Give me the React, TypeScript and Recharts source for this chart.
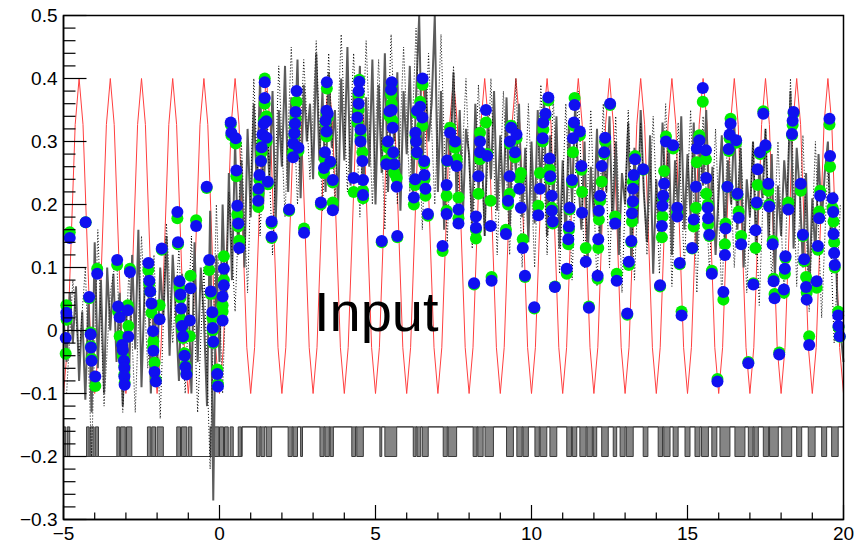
import React from 'react';
import { ComposedChart, Line, Area, XAxis, YAxis } from 'recharts';

const FONT = "'Liberation Sans', Arial, Helvetica, sans-serif";

// layout
const CHART_W = 866;
const CHART_H = 544;
const MARGIN = { top: 15.5, right: 22.5, bottom: 0, left: 0 };
const Y_AXIS_W = 63.5;
const X_AXIS_H = 24.5;
const PLOT_X = MARGIN.left + Y_AXIS_W;
const PLOT_Y = MARGIN.top;
const PLOT_W = CHART_W - MARGIN.right - PLOT_X;
const PLOT_H = CHART_H - MARGIN.bottom - X_AXIS_H - PLOT_Y;

const X_TICKS = [-5, -4, -3, -2, -1, 0, 1, 2, 3, 4, 5, 6, 7, 8, 9, 10, 11, 12, 13, 14, 15, 16, 17, 18, 19, 20];
const Y_TICKS = [
  -0.3, -0.28, -0.26, -0.24, -0.22, -0.2, -0.18, -0.16, -0.14, -0.12,
  -0.1, -0.08, -0.06, -0.04, -0.02, 0, 0.02, 0.04, 0.06, 0.08,
  0.1, 0.12, 0.14, 0.16, 0.18, 0.2, 0.22, 0.24, 0.26, 0.28,
  0.3, 0.32, 0.34, 0.36, 0.38, 0.4, 0.42, 0.44, 0.46, 0.48, 0.5,
];

// red reference oscillation, sampled every 0.125 from x = -5
const RED_START = -5;
const RED_STEP = 0.125;
const redValues = [
  -0.1, -0.027, 0.15, 0.327, 0.4, 0.327, 0.15, -0.027,
  -0.1, -0.027, 0.15, 0.327, 0.4, 0.327, 0.15, -0.027,
  -0.1, -0.027, 0.15, 0.327, 0.4, 0.327, 0.15, -0.027,
  -0.1, -0.027, 0.15, 0.327, 0.4, 0.327, 0.15, -0.027,
  -0.1, -0.027, 0.15, 0.327, 0.4, 0.327, 0.15, -0.027,
  -0.1, -0.027, 0.15, 0.327, 0.4, 0.327, 0.15, -0.027,
  -0.1, -0.027, 0.15, 0.327, 0.4, 0.327, 0.15, -0.027,
  -0.1, -0.027, 0.15, 0.327, 0.4, 0.327, 0.15, -0.027,
  -0.1, -0.027, 0.15, 0.327, 0.4, 0.327, 0.15, -0.027,
  -0.1, -0.027, 0.15, 0.327, 0.4, 0.327, 0.15, -0.027,
  -0.1, -0.027, 0.15, 0.327, 0.4, 0.327, 0.15, -0.027,
  -0.1, -0.027, 0.15, 0.327, 0.4, 0.327, 0.15, -0.027,
  -0.1, -0.027, 0.15, 0.327, 0.4, 0.327, 0.15, -0.027,
  -0.1, -0.027, 0.15, 0.327, 0.4, 0.327, 0.15, -0.027,
  -0.1, -0.027, 0.15, 0.327, 0.4, 0.327, 0.15, -0.027,
  -0.1, -0.027, 0.15, 0.327, 0.4, 0.327, 0.15, -0.027,
  -0.1, -0.027, 0.15, 0.327, 0.4, 0.327, 0.15, -0.027,
  -0.1, -0.027, 0.15, 0.327, 0.4, 0.327, 0.15, -0.027,
  -0.1, -0.027, 0.15, 0.327, 0.4, 0.327, 0.15, -0.027,
  -0.1, -0.027, 0.15, 0.327, 0.4, 0.327, 0.15, -0.027,
  -0.1, -0.027, 0.15, 0.327, 0.4, 0.327, 0.15, -0.027,
  -0.1, -0.027, 0.15, 0.327, 0.4, 0.327, 0.15, -0.027,
  -0.1, -0.027, 0.15, 0.327, 0.4, 0.327, 0.15, -0.027,
  -0.1, -0.027, 0.15, 0.327, 0.4, 0.327, 0.15, -0.027,
  -0.1, -0.027, 0.15, 0.327, 0.4, 0.327, 0.15, -0.027,
  -0.1,
];

// noisy input signal (gray), sampled every 0.1 from x = -5
const INPUT_START = -5;
const INPUT_STEP = 0.1;
const inputValues = [
  0.02, -0.05, 0.06, -0.02, 0.07, -0.08, 0.03, -0.11, 0.05, -0.13,
  0.14, -0.06, 0.08, -0.1, 0.1, 0.0, 0.09, -0.05, 0.06, -0.12,
  0.04, -0.08, 0.12, -0.03, 0.16, -0.09, 0.07, 0.11, -0.1, 0.05,
  -0.06, 0.1, 0.02, 0.15, -0.04, 0.12, 0.03, -0.08, 0.09, -0.02,
  0.06, -0.1, 0.14, -0.05, 0.1, 0.02, -0.12, 0.19, -0.27, 0.12,
  -0.05, 0.2, 0.02, 0.25, 0.08, 0.3, 0.12, 0.27, 0.1, 0.32,
  0.18, 0.36, 0.22, 0.4, 0.2, 0.33, 0.24, 0.38, 0.17, 0.35,
  0.26, 0.42, 0.22, 0.37, 0.28, 0.43, 0.21, 0.39, 0.3, 0.36,
  0.24, 0.44, 0.27, 0.38, 0.22, 0.41, 0.29, 0.35, 0.19, 0.4,
  0.27, 0.45, 0.23, 0.38, 0.31, 0.42, 0.2, 0.37, 0.26, 0.43,
  0.2, 0.39, 0.25, 0.44, 0.22, 0.36, 0.3, 0.41, 0.19, 0.38,
  0.28, 0.42, 0.21, 0.37, 0.5, 0.24, 0.4, 0.3, 0.36, 0.5,
  0.22, 0.38, 0.16, 0.33, 0.27, 0.41, 0.2, 0.35, 0.18, 0.32,
  0.28, 0.17, 0.36, 0.22, 0.3, 0.15, 0.34, 0.24, 0.38, 0.19,
  0.31, 0.2, 0.37, 0.16, 0.33, 0.25, 0.36, 0.18, 0.29, 0.14,
  0.3, 0.17, 0.35, 0.22, 0.37, 0.15, 0.31, 0.2, 0.34, 0.13,
  0.27, 0.14, 0.33, 0.2, 0.36, 0.24, 0.16, 0.3, 0.11, 0.26,
  0.18, 0.32, 0.13, 0.28, 0.22, 0.34, 0.16, 0.3, 0.12, 0.25,
  0.2, 0.33, 0.1, 0.29, 0.17, 0.35, 0.22, 0.14, 0.31, 0.09,
  0.24, 0.15, 0.33, 0.21, 0.3, 0.12, 0.27, 0.19, 0.34, 0.16,
  0.28, 0.18, 0.33, 0.13, 0.3, 0.23, 0.35, 0.17, 0.26, 0.12,
  0.22, 0.31, 0.14, 0.27, 0.2, 0.33, 0.16, 0.29, 0.1, 0.24,
  0.18, 0.3, 0.12, 0.26, 0.21, 0.32, 0.14, 0.28, 0.08, 0.23,
  0.15, 0.27, 0.2, 0.38, 0.13, 0.29, 0.22, 0.1, 0.25, 0.06,
  0.21, 0.12, 0.28, 0.17, 0.25, 0.3, 0.14, 0.22, 0.05, 0.0,
  -0.05,
];

// black dotted trace, sampled every 0.2 from x = -4.9
const DOTTED_START = -4.9;
const DOTTED_STEP = 0.2;
const dottedValues = [
  -0.1, 0.08, -0.04, 0.1, -0.2,
  0.16, -0.12, 0.06, 0.12, -0.13,
  0.1, -0.13, 0.15, -0.06, 0.12,
  -0.14, 0.17, -0.02, 0.13, -0.1,
  0.15, -0.13, 0.1, -0.22, 0.2,
  -0.1, 0.22, 0.03, 0.3, 0.06,
  0.4, 0.15, 0.38, 0.12, 0.42,
  0.18, 0.45, 0.2, 0.43, 0.24,
  0.46, 0.19, 0.44, 0.2, 0.47,
  0.22, 0.44, 0.18, 0.46, 0.2,
  0.43, 0.16, 0.47, 0.2, 0.45,
  0.22, 0.48, 0.16, 0.44, 0.2,
  0.47, 0.14, 0.42, 0.19, 0.4,
  0.13, 0.39, 0.15, 0.4, 0.12,
  0.38, 0.12, 0.4, 0.1, 0.36,
  0.1, 0.39, 0.12, 0.37, 0.09,
  0.36, 0.08, 0.38, 0.1, 0.35,
  0.07, 0.36, 0.1, 0.34, 0.06,
  0.35, 0.08, 0.33, 0.12, 0.34,
  0.09, 0.36, 0.07, 0.33, 0.1,
  0.35, 0.06, 0.34, 0.09, 0.32,
  0.05, 0.33, 0.1, 0.31, 0.06,
  0.3, 0.04, 0.32, 0.08, 0.3,
  0.05, 0.4, 0.07, 0.31, 0.03,
  0.3, 0.02, 0.27, -0.02, 0.2,
];

// digital trigger signal
const DIGITAL_LOW = -0.2;
const DIGITAL_HIGH = -0.153;
const DIGITAL_REST_SWITCH = 0.72; // rest level low before, high after
const digitalBlocks: [number, number][] = [
  [-5, -4.93], [-4.88, -4.8],
  [-4.26, -4.18], [-4.15, -4.02], [-3.98, -3.88],
  [-3.29, -3.2], [-3.17, -3.02], [-2.98, -2.81],
  [-2.31, -2.2], [-2.17, -2.05], [-2.0, -1.8],
  [-1.37, -1.25], [-1.22, -1.05], [-1.0, -0.89],
  [-0.3, -0.2], [-0.17, -0.02], [0.0, 0.13], [0.16, 0.28],
  [0.34, 0.44], [0.6, 0.7],
  [1.19, 1.3], [1.33, 1.45], [1.5, 1.67],
  [2.2, 2.33], [2.36, 2.5], [2.6, 2.66],
  [3.22, 3.35], [3.38, 3.52], [3.55, 3.65],
  [4.24, 4.36], [4.4, 4.61],
  [5.14, 5.2], [5.3, 5.68],
  [6.21, 6.3], [6.33, 6.45], [6.5, 6.69],
  [7.17, 7.3], [7.33, 7.6],
  [8.13, 8.25], [8.28, 8.45], [8.51, 8.78],
  [9.2, 9.42], [9.53, 9.7], [9.73, 9.9],
  [10.11, 10.25], [10.28, 10.49], [10.59, 10.81],
  [11.13, 11.28], [11.31, 11.45],
  [11.55, 11.75], [11.78, 11.95], [11.98, 12.09],
  [12.25, 12.46], [12.62, 12.73],
  [12.84, 13.0], [13.04, 13.26],
  [13.58, 13.73],
  [14.06, 14.2], [14.24, 14.44], [14.54, 14.7],
  [14.92, 15.08], [15.24, 15.4], [15.45, 15.67],
  [15.78, 15.94], [16.04, 16.36], [16.52, 16.84],
  [16.95, 17.1], [17.13, 17.27],
  [17.43, 17.6], [17.63, 17.91],
  [18.02, 18.34], [18.5, 18.66], [18.87, 19.09],
  [19.3, 19.46], [19.62, 19.83],
];

// sampled points: [x, blue value, green value]
const samples: [number, number, number][] = [
  [-4.93, -0.012, -0.037], [-4.91, 0.028, 0.04], [-4.9, 0.022, 0.017], [-4.8, 0.147, 0.156],
  [-4.29, 0.172, 0.172], [-4.18, 0.053, 0.051], [-4.13, -0.006, -0.003], [-4.12, -0.027, -0.025],
  [-4.1, -0.048, -0.045], [-3.98, -0.073, -0.088], [-3.92, 0.09, 0.098],
  [-3.28, 0.112, 0.104], [-3.25, 0.038, 0.03], [-3.2, 0.021, -0.009], [-3.12, -0.023, -0.02],
  [-3.1, -0.031, -0.04], [-3.06, -0.048, -0.045], [-3.05, -0.059, -0.056], [-3.05, -0.073, -0.07],
  [-3.04, -0.086, -0.083], [-2.94, 0.032, 0.04], [-2.92, -0.01, 0.007], [-2.87, 0.093, 0.098],
  [-2.28, 0.107, 0.096], [-2.25, 0.079, 0.075], [-2.22, 0.062, 0.062], [-2.18, 0.043, 0.028],
  [-2.13, -0.001, -0.026], [-2.12, -0.032, -0.017], [-2.08, -0.066, -0.051], [-2.04, -0.081, -0.078],
  [-1.92, 0.018, 0.04], [-1.85, 0.13, 0.128],
  [-1.35, 0.188, 0.178], [-1.33, 0.14, 0.137], [-1.28, 0.078, 0.068], [-1.25, 0.057, 0.052],
  [-1.23, 0.035, 0.018], [-1.2, 0.007, 0.002], [-1.17, -0.009, -0.012], [-1.12, -0.04, -0.036],
  [-1.09, -0.058, -0.055], [-1.06, -0.07, -0.068], [-0.93, 0.067, 0.087], [-0.95, 0.016, -0.009],
  [-0.75, 0.166, 0.175],
  [-0.41, 0.228, 0.226], [-0.33, 0.112, 0.096], [-0.28, 0.062, 0.058], [-0.23, 0.029, 0.02],
  [-0.22, 0.004, 0.0], [-0.2, -0.018, -0.02], [-0.07, -0.069, -0.062], [-0.05, -0.089, -0.085],
  [0.1, 0.054, 0.04], [0.1, 0.016, 0.03], [0.14, 0.098, 0.118], [0.14, 0.072, 0.08],
  [0.36, 0.33, 0.327], [0.38, 0.314, 0.31], [0.52, 0.305, 0.297], [0.54, 0.254, 0.245],
  [0.57, 0.198, 0.184], [0.6, 0.17, 0.165], [0.63, 0.131, 0.143],
  [1.45, 0.394, 0.4], [1.45, 0.369, 0.36], [1.42, 0.328, 0.333], [1.5, 0.332, 0.34],
  [1.38, 0.311, 0.299], [1.51, 0.306, 0.3], [1.35, 0.291, 0.283], [1.33, 0.269, 0.27],
  [1.28, 0.247, 0.239], [1.25, 0.225, 0.217], [1.24, 0.206, 0.196], [1.55, 0.236, 0.232],
  [1.67, 0.173, 0.17], [1.67, 0.149, 0.147],
  [2.23, 0.192, 0.19], [2.47, 0.38, 0.363], [2.44, 0.347, 0.336], [2.42, 0.328, 0.325],
  [2.4, 0.313, 0.31], [2.37, 0.297, 0.28], [2.36, 0.275, 0.283], [2.53, 0.29, 0.285],
  [2.71, 0.155, 0.162],
  [3.44, 0.394, 0.384], [3.43, 0.349, 0.345], [3.47, 0.344, 0.338], [3.4, 0.333, 0.33],
  [3.43, 0.316, 0.308], [3.38, 0.283, 0.272], [3.35, 0.258, 0.25], [3.55, 0.268, 0.265],
  [3.63, 0.239, 0.235], [3.25, 0.203, 0.2], [3.63, 0.191, 0.203],
  [4.48, 0.395, 0.398], [4.46, 0.38, 0.375], [4.46, 0.36, 0.35], [4.42, 0.338, 0.33],
  [4.52, 0.319, 0.31], [4.52, 0.3, 0.304], [4.58, 0.269, 0.283], [4.3, 0.242, 0.22],
  [4.6, 0.239, 0.222], [4.6, 0.215, 0.21],
  [5.2, 0.142, 0.14], [5.52, 0.394, 0.39], [5.5, 0.382, 0.375], [5.52, 0.35, 0.36],
  [5.45, 0.348, 0.34], [5.55, 0.322, 0.333], [5.4, 0.3, 0.29], [5.57, 0.283, 0.28],
  [5.35, 0.264, 0.27], [5.6, 0.264, 0.25], [5.68, 0.228, 0.242], [5.7, 0.15, 0.148],
  [6.51, 0.4, 0.39], [6.43, 0.355, 0.363], [6.5, 0.338, 0.325], [6.33, 0.349, 0.345],
  [6.28, 0.314, 0.31], [6.3, 0.3, 0.3], [6.33, 0.283, 0.28], [6.56, 0.269, 0.265],
  [6.57, 0.247, 0.24], [6.6, 0.225, 0.214], [6.23, 0.211, 0.2], [6.27, 0.24, 0.231],
  [6.68, 0.185, 0.182],
  [7.15, 0.134, 0.126], [7.28, 0.231, 0.214], [7.28, 0.185, 0.19], [7.39, 0.314, 0.322],
  [7.3, 0.27, 0.269], [7.55, 0.3, 0.29], [7.6, 0.261, 0.272], [7.66, 0.192, 0.211],
  [7.66, 0.17, 0.178],
  [8.16, 0.075, 0.073], [8.22, 0.181, 0.146], [8.22, 0.163, 0.16], [8.3, 0.245, 0.217],
  [8.35, 0.3, 0.314], [8.35, 0.283, 0.272], [8.54, 0.35, 0.33], [8.58, 0.277, 0.28],
  [8.69, 0.166, 0.206], [8.72, 0.079, 0.085],
  [9.18, 0.153, 0.16], [9.25, 0.206, 0.2], [9.3, 0.245, 0.217], [9.31, 0.3, 0.296],
  [9.35, 0.322, 0.325], [9.47, 0.283, 0.275], [9.52, 0.311, 0.305], [9.61, 0.225, 0.242],
  [9.66, 0.195, 0.25], [9.72, 0.131, 0.145], [9.79, 0.087, 0.085],
  [10.09, 0.037, 0.035], [10.22, 0.183, 0.198], [10.27, 0.225, 0.25], [10.36, 0.305, 0.3],
  [10.38, 0.33, 0.319], [10.45, 0.344, 0.34], [10.54, 0.37, 0.365], [10.58, 0.273, 0.256],
  [10.6, 0.245, 0.24], [10.65, 0.214, 0.195], [10.65, 0.19, 0.19], [10.68, 0.173, 0.17],
  [10.75, 0.069, 0.07],
  [11.13, 0.098, 0.09], [11.18, 0.145, 0.137], [11.2, 0.165, 0.16], [11.22, 0.195, 0.192],
  [11.3, 0.239, 0.235], [11.33, 0.305, 0.283], [11.36, 0.33, 0.325], [11.38, 0.358, 0.369],
  [11.55, 0.316, 0.31], [11.6, 0.261, 0.255], [11.62, 0.187, 0.22], [11.74, 0.109, 0.131],
  [11.84, 0.036, 0.038],
  [12.12, 0.087, 0.082], [12.14, 0.145, 0.131], [12.16, 0.19, 0.176], [12.2, 0.214, 0.206],
  [12.25, 0.261, 0.236], [12.33, 0.283, 0.28], [12.36, 0.306, 0.3], [12.52, 0.36, 0.358],
  [12.68, 0.17, 0.181], [12.73, 0.079, 0.09],
  [13.07, 0.027, 0.025], [13.12, 0.109, 0.104], [13.2, 0.142, 0.14], [13.22, 0.186, 0.173],
  [13.25, 0.205, 0.2], [13.25, 0.225, 0.236], [13.28, 0.247, 0.245], [13.32, 0.272, 0.277],
  [13.58, 0.256, 0.255],
  [14.12, 0.072, 0.07], [14.18, 0.166, 0.148], [14.2, 0.198, 0.181], [14.22, 0.214, 0.21],
  [14.25, 0.233, 0.253], [14.31, 0.3, 0.308], [14.54, 0.294, 0.289], [14.67, 0.195, 0.188],
  [14.67, 0.181, 0.185], [14.75, 0.107, 0.105], [14.81, 0.024, 0.03],
  [15.15, 0.131, 0.13], [15.2, 0.176, 0.165], [15.27, 0.228, 0.195], [15.3, 0.289, 0.267],
  [15.38, 0.302, 0.31], [15.49, 0.385, 0.363], [15.59, 0.286, 0.272], [15.6, 0.242, 0.217],
  [15.65, 0.195, 0.2], [15.66, 0.178, 0.168], [15.7, 0.152, 0.15], [15.78, 0.09, 0.095],
  [15.96, -0.081, -0.077],
  [16.15, 0.061, 0.049], [16.2, 0.12, 0.137], [16.22, 0.162, 0.17], [16.28, 0.228, 0.228],
  [16.32, 0.288, 0.285], [16.35, 0.311, 0.305], [16.38, 0.328, 0.336], [16.56, 0.302, 0.298],
  [16.6, 0.217, 0.215], [16.64, 0.179, 0.189], [16.72, 0.137, 0.15], [16.95, -0.052, -0.05],
  [17.11, 0.073, 0.075], [17.18, 0.159, 0.131], [17.22, 0.203, 0.2], [17.25, 0.256, 0.231],
  [17.32, 0.283, 0.28], [17.43, 0.344, 0.348], [17.5, 0.294, 0.29], [17.59, 0.233, 0.222],
  [17.62, 0.197, 0.2], [17.73, 0.137, 0.142], [17.76, 0.078, 0.082], [17.79, 0.051, 0.058],
  [17.94, -0.038, -0.035],
  [18.09, 0.065, 0.06], [18.12, 0.098, 0.09], [18.14, 0.118, 0.115], [18.23, 0.192, 0.203],
  [18.35, 0.312, 0.31], [18.37, 0.333, 0.326], [18.4, 0.347, 0.345], [18.63, 0.233, 0.222],
  [18.7, 0.152, 0.15], [18.74, 0.113, 0.11], [18.8, 0.069, 0.085], [18.82, 0.049, 0.06],
  [18.9, -0.023, -0.009],
  [19.14, 0.078, 0.068], [19.18, 0.134, 0.128], [19.22, 0.178, 0.189], [19.25, 0.214, 0.222],
  [19.55, 0.336, 0.327], [19.57, 0.277, 0.26], [19.65, 0.21, 0.195], [19.67, 0.188, 0.19],
  [19.68, 0.153, 0.173], [19.7, 0.123, 0.14], [19.72, 0.104, 0.1], [19.83, 0.024, 0.03],
  [19.84, 0.007, 0.005], [19.88, -0.009, -0.01],
];

const TITLE = 'Input';

// ---- tables built from the arrays above ----
const X_MIN = X_TICKS[0];
const X_MAX = X_TICKS[X_TICKS.length - 1];
const Y_MIN = Y_TICKS[0];
const Y_MAX = Y_TICKS[Y_TICKS.length - 1];

const redData = redValues.map((y, i) => ({ x: RED_START + i * RED_STEP, y }));
const inputData = inputValues.map((y, i) => ({ x: INPUT_START + i * INPUT_STEP, y }));
const dottedData = dottedValues.map((y, i) => ({ x: DOTTED_START + i * DOTTED_STEP, y }));
const greenData = samples.map(([x, , g]) => ({ x, y: g }));
const blueData = samples.map(([x, b]) => ({ x, y: b }));

const restRange = (x: number): [number, number] =>
  x < DIGITAL_REST_SWITCH ? [DIGITAL_LOW, DIGITAL_LOW] : [DIGITAL_HIGH, DIGITAL_HIGH];

const digitalData = (() => {
  const pts: { x: number; r: [number, number] }[] = [];
  pts.push({ x: X_MIN, r: restRange(X_MIN) });
  digitalBlocks.forEach(([s, e]) => {
    pts.push({ x: s, r: [DIGITAL_LOW, DIGITAL_HIGH] });
    pts.push({ x: e, r: restRange(e) });
  });
  pts.push({ x: DIGITAL_REST_SWITCH, r: restRange(DIGITAL_REST_SWITCH) });
  pts.push({ x: X_MAX, r: restRange(X_MAX) });
  pts.sort((a, b) => a.x - b.x);
  return pts;
})();

const fmtY = (v: number) => {
  if (Math.abs(v) < 1e-9) return '0';
  const s = Math.abs(v).toFixed(1);
  return v < 0 ? '\u2212' + s : s;
};
const fmtX = (v: number) => (v < 0 ? '\u2212' + Math.abs(v) : String(v));

const YTick = (props: any) => {
  const { x, y, payload } = props;
  const v = payload.value as number;
  const major = Math.abs(v * 10 - Math.round(v * 10)) < 1e-6;
  return (
    <g>
      <line x1={x} y1={y} x2={x + (major ? 23 : 12)} y2={y} stroke="#000" strokeWidth={1.2} />
      {major && (
        <text x={x - 6} y={y} dy={6.7} textAnchor="end" fontSize={19} fontFamily={FONT} fill="#000">
          {fmtY(v)}
        </text>
      )}
    </g>
  );
};

const XTick = (props: any) => {
  const { x, y, payload } = props;
  const v = payload.value as number;
  const major = Math.abs(v % 5) < 1e-9;
  return (
    <g>
      <line x1={x} y1={y} x2={x} y2={y - (major ? 14.5 : 7)} stroke="#000" strokeWidth={1.2} />
      {major && (
        <text x={x} y={y + 20.5} textAnchor="middle" fontSize={19} fontFamily={FONT} fill="#000">
          {fmtX(v)}
        </text>
      )}
    </g>
  );
};

export default function App() {
  return (
    <div style={{ position: 'absolute', left: 0, top: 0, width: CHART_W, height: CHART_H, background: '#fff' }}>
      <ComposedChart width={CHART_W} height={CHART_H} margin={MARGIN}>
        <XAxis
          dataKey="x"
          type="number"
          domain={[X_MIN, X_MAX]}
          ticks={X_TICKS}
          interval={0}
          height={X_AXIS_H}
          tickSize={0}
          tickMargin={0}
          tickLine={false}
          axisLine={{ stroke: '#000', strokeWidth: 1.5 }}
          tick={<XTick />}
        />
        <YAxis
          type="number"
          domain={[Y_MIN, Y_MAX]}
          ticks={Y_TICKS}
          interval={0}
          width={Y_AXIS_W}
          tickSize={0}
          tickMargin={0}
          tickLine={false}
          axisLine={{ stroke: '#000', strokeWidth: 1.5 }}
          tick={<YTick />}
        />
        <Line
          data={redData}
          dataKey="y"
          type="linear"
          stroke="#ff4040"
          strokeWidth={1}
          dot={false}
          activeDot={false}
          isAnimationActive={false}
        />
        <Line
          data={inputData}
          dataKey="y"
          type="linear"
          stroke="#5c5c5c"
          strokeWidth={2}
          dot={false}
          activeDot={false}
          isAnimationActive={false}
        />
        <Line
          data={dottedData}
          dataKey="y"
          type="linear"
          stroke="#000"
          strokeWidth={1}
          strokeDasharray="1 2"
          dot={false}
          activeDot={false}
          isAnimationActive={false}
        />
        <Area
          data={digitalData}
          dataKey="r"
          type="stepAfter"
          stroke="#3a3a3a"
          strokeWidth={1}
          fill="#666666"
          fillOpacity={0.8}
          dot={false}
          activeDot={false}
          isAnimationActive={false}
        />
        <Line
          data={greenData}
          dataKey="y"
          stroke="none"
          dot={{ r: 6, fill: '#00ee00', stroke: 'none', strokeWidth: 0 }}
          activeDot={false}
          isAnimationActive={false}
        />
        <Line
          data={blueData}
          dataKey="y"
          stroke="none"
          dot={{ r: 6, fill: '#1010f0', stroke: 'none', strokeWidth: 0 }}
          activeDot={false}
          isAnimationActive={false}
        />
      </ComposedChart>
      <svg
        width={CHART_W}
        height={CHART_H}
        style={{ position: 'absolute', left: 0, top: 0, pointerEvents: 'none' }}
      >
        <rect x={PLOT_X} y={PLOT_Y} width={PLOT_W} height={PLOT_H} fill="none" stroke="#000" strokeWidth={1.5} />
        <text x={314} y={331} fontSize={56} fontFamily={FONT} fill="#000">
          {TITLE}
        </text>
      </svg>
    </div>
  );
}
